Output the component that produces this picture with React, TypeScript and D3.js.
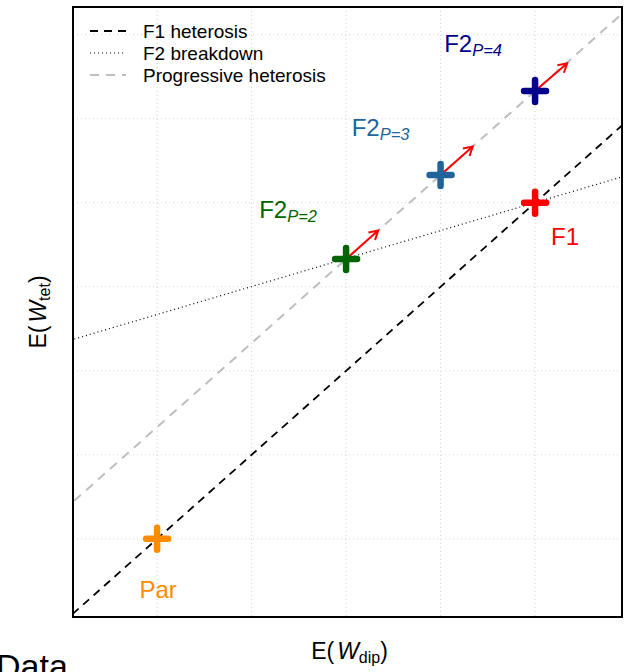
import React from 'react'
import * as d3 from 'd3'

// point estimates (grid units)
const groups = ['Par', 'F1', 'F2_P2', 'F2_P3', 'F2_P4']
const wDip = [0, 4, 2, 3, 4]
const wTet = [0, 4, 3.33, 4.33, 5.33]
const colors = ['#FF8C00', '#FF0000', '#006400', '#20649A', '#00008B']

// arrows start at the F2 points
const arrowFrom = [2, 3, 4]
const arrowEndDip = [2.34, 3.34, 4.34]
const arrowEndTet = [3.67, 4.67, 5.66]
const arrowStartTet = [3.33, 4.33, 5.33]

// reference lines: intercept + slope
const lineNames = ['F1 heterosis', 'F2 breakdown', 'Progressive heterosis']
const lineIntercepts = [0, 2.67, 1.33]
const lineSlopes = [1, 0.333, 1]

const dipTicks = [0, 1, 2, 3, 4]
const tetTicks = [0, 1, 2, 3, 4, 5, 6]

const W = 627
const H = 672
const font = '"Liberation Sans", Arial, Helvetica, sans-serif'

const lineStyles = [
    { stroke: '#000', width: 1.8, dash: '8,6' },
    { stroke: '#000', width: 1.2, dash: '1,3' },
    { stroke: '#BEBEBE', width: 2, dash: '9,7' },
]

const App: React.FC = () => {
    const box = { left: 73, right: 622, top: 7, bottom: 617 }
    const x = d3.scaleLinear().domain([-0.89, 4.92]).range([box.left, box.right])
    const y = d3.scaleLinear().domain([-0.93, 6.33]).range([box.bottom, box.top])
    const [x0, x1] = x.domain()

    const line = d3
        .line<[number, number]>()
        .x((d) => x(d[0]))
        .y((d) => y(d[1]))

    const crossArm = 11

    // label placement (pixel offsets from the point)
    const labelDx = [1, 30, -58, -60, -62]
    const labelDy = [59, 42, -41, -39, -39]

    const arrowHead = (sx: number, sy: number, ex: number, ey: number) => {
        const ang = Math.atan2(ey - sy, ex - sx)
        const len = 10
        const a = Math.PI / 6
        const p1 = [ex - len * Math.cos(ang - a), ey - len * Math.sin(ang - a)]
        const p2 = [ex - len * Math.cos(ang + a), ey - len * Math.sin(ang + a)]
        return `M${p1[0]},${p1[1]}L${ex},${ey}L${p2[0]},${p2[1]}`
    }

    return (
        <div style={{ position: 'absolute', left: 0, top: 0 }}>
            <svg width={W} height={H} style={{ display: 'block', background: '#fff' }} fontFamily={font}>
                <defs>
                    <clipPath id="plotclip">
                        <rect x={box.left} y={box.top} width={box.right - box.left} height={box.bottom - box.top} />
                    </clipPath>
                </defs>

                {/* grid */}
                {dipTicks.map((t) => (
                    <line key={'gx' + t} x1={x(t)} x2={x(t)} y1={box.top} y2={box.bottom}
                        stroke="#D3D3D3" strokeWidth={1} strokeDasharray="1,3" />
                ))}
                {tetTicks.map((t) => (
                    <line key={'gy' + t} x1={box.left} x2={box.right} y1={y(t)} y2={y(t)}
                        stroke="#D3D3D3" strokeWidth={1} strokeDasharray="1,3" />
                ))}

                {/* reference lines */}
                <g clipPath="url(#plotclip)">
                    {lineNames.map((n, i) => (
                        <path key={n}
                            d={line([
                                [x0 - 1, lineIntercepts[i] + lineSlopes[i] * (x0 - 1)],
                                [x1 + 1, lineIntercepts[i] + lineSlopes[i] * (x1 + 1)],
                            ]) as string}
                            fill="none" stroke={lineStyles[i].stroke}
                            strokeWidth={lineStyles[i].width} strokeDasharray={lineStyles[i].dash} />
                    ))}
                </g>

                {/* arrows */}
                {arrowFrom.map((d, i) => {
                    const sx = x(d), sy = y(arrowStartTet[i])
                    const ex = x(arrowEndDip[i]), ey = y(arrowEndTet[i])
                    return (
                        <g key={'ar' + i} stroke="#FF0000" strokeWidth={2} fill="none">
                            <line x1={sx} y1={sy} x2={ex} y2={ey} />
                            <path d={arrowHead(sx, sy, ex, ey)} />
                        </g>
                    )
                })}

                {/* crosses */}
                {groups.map((g, i) => {
                    const cx = x(wDip[i]), cy = y(wTet[i])
                    return (
                        <path key={'c' + g}
                            d={`M${cx - crossArm},${cy}H${cx + crossArm}M${cx},${cy - crossArm}V${cy + crossArm}`}
                            stroke={colors[i]} strokeWidth={6.5} strokeLinecap="round" fill="none" />
                    )
                })}

                {/* labels */}
                {groups.map((g, i) => {
                    const lx = x(wDip[i]) + labelDx[i]
                    const ly = y(wTet[i]) + labelDy[i]
                    if (g.startsWith('F2')) {
                        return (
                            <text key={'l' + g} x={lx} y={ly} fill={colors[i]} fontSize={24} textAnchor="middle">
                                F2
                                <tspan fontSize={16.5} fontStyle="italic" dy={4}>{'P=' + g.slice(4)}</tspan>
                            </text>
                        )
                    }
                    return (
                        <text key={'l' + g} x={lx} y={ly} fill={colors[i]} fontSize={24} textAnchor="middle">{g}</text>
                    )
                })}

                {/* legend */}
                {lineNames.map((n, i) => (
                    <g key={'lg' + n}>
                        <line x1={90} x2={126} y1={31 + i * 22} y2={31 + i * 22}
                            stroke={lineStyles[i].stroke} strokeWidth={lineStyles[i].width}
                            strokeDasharray={lineStyles[i].dash} />
                        <text x={143} y={38 + i * 22} fontSize={19} fill="#000">{n}</text>
                    </g>
                ))}

                {/* frame */}
                <rect x={box.left} y={box.top} width={box.right - box.left} height={box.bottom - box.top}
                    fill="none" stroke="#000" strokeWidth={2} />

                {/* axis titles */}
                <text x={(box.left + box.right) / 2 + 2} y={659} fontSize={23} textAnchor="middle" fill="#000">
                    E(<tspan fontStyle="italic" dx={3}>W</tspan><tspan fontSize={16} dy={4}>dip</tspan><tspan dy={-4}>)</tspan>
                </text>
                <text transform={`translate(46,${(box.top + box.bottom) / 2}) rotate(-90)`} fontSize={23}
                    textAnchor="middle" fill="#000">
                    E(<tspan fontStyle="italic" dx={3}>W</tspan><tspan fontSize={16} dy={4}>tet</tspan><tspan dy={-4}>)</tspan>
                </text>

                {/* next panel heading, cut by the frame */}
                <text x={-4} y={678} fontSize={34} fill="#000">Data</text>
            </svg>
        </div>
    )
}

export default App
